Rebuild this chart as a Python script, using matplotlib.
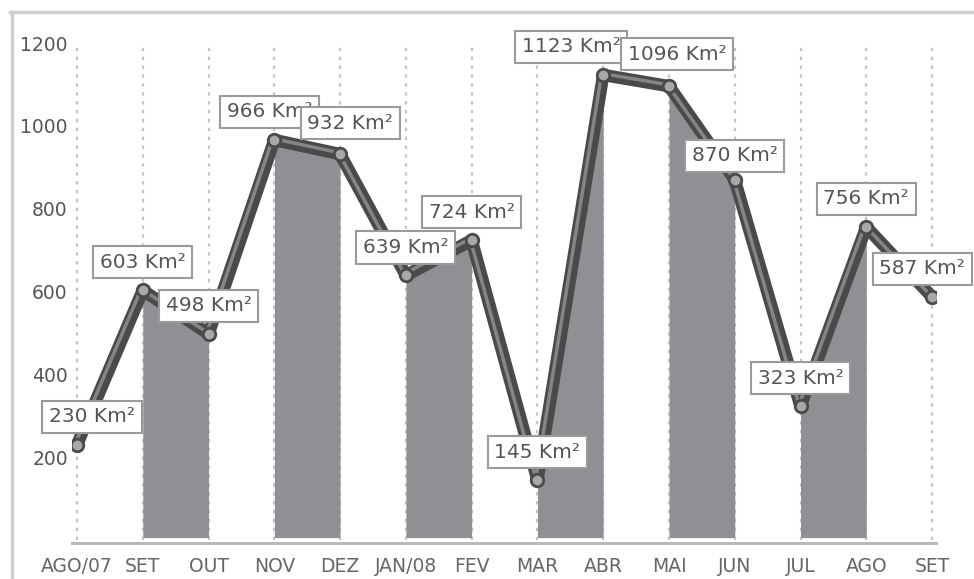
import numpy as np
import matplotlib.pyplot as plt
import matplotlib.transforms as mtransforms
from matplotlib.lines import Line2D

# area per month (km2)
months = ['AGO/07', 'SET', 'OUT', 'NOV', 'DEZ', 'JAN/08', 'FEV', 'MAR',
          'ABR', 'MAI', 'JUN', 'JUL', 'AGO', 'SET']
area = [230, 603, 498, 966, 932, 639, 724, 145, 1123, 1096, 870, 323, 756, 587]
yticks = [200, 400, 600, 800, 1000, 1200]

plt.rcParams['font.family'] = ['DejaVu Sans']

fig = plt.figure(figsize=(9.74, 5.79), dpi=100)
ax = fig.add_axes([72/974, 1-543/579, (936-72)/974, (543-41)/579])

x = np.arange(len(area))
y = np.array(area)

# dotted vertical grid
ax.vlines(x, 0, 1200, colors='#c4c4c4', linestyles=(0, (1.5, 2.5)), lw=1.6, zorder=1)

# shaded bands under the line (every other interval)
for i in range(1, len(x)-1, 2):
    ax.fill_between(x[i:i+2], 6, y[i:i+2], color='#8e9094', lw=0, zorder=2)

# tube-like line
ax.plot(x, y, color='#4a4a4a', lw=9, solid_joinstyle='round', solid_capstyle='round', zorder=3)
shift = mtransforms.offset_copy(ax.transData, fig=fig, x=-1.5, y=1.5, units='dots')
ax.plot(x, y, color='#858585', lw=2.5, transform=shift, solid_joinstyle='round', zorder=4)
ax.plot(x, y, 'o', ms=9, mfc='#a8a8a8', mec='#4a4a4a', mew=2, zorder=5)

# value labels, nudged a bit like the original
nudge = {0: (15, 0), 3: (-5, 0), 4: (10, 3), 8: (-32, 0), 9: (8, 4), 10: (0, -4), 13: (-10, 0)}
for i, v in enumerate(area):
    dx, dy = nudge.get(i, (0, 0))
    ax.annotate('%d Km²' % v, (x[i], v), xytext=(dx, 28+dy), textcoords='offset pixels',
                ha='center', va='center', fontsize=14.5, color='#555555',
                bbox=dict(boxstyle='square,pad=0.33', fc='white', ec='#9a9a9a', lw=1.5),
                zorder=6, annotation_clip=False)

ax.set_xlim(-0.076, 13.06)
ax.set_ylim(-7, 1205)
ax.set_xticks(x)
ax.set_xticklabels(months)
ax.set_yticks(yticks)
ax.tick_params(axis='x', length=0, pad=10, labelsize=13.5, labelcolor='#666666')
ax.tick_params(axis='y', length=0, pad=3, labelsize=13.5, labelcolor='#555555')
for s in ['top', 'right', 'left']:
    ax.spines[s].set_visible(False)
ax.spines['bottom'].set_color('#b8b8b8')
ax.spines['bottom'].set_linewidth(2.2)

# outer frame (top and left edges)
fig.add_artist(Line2D([10/974, 1], [1-12/579, 1-12/579], color='#cfcfcf', lw=2.5))
fig.add_artist(Line2D([12/974, 12/974], [1-12/579, 0], color='#cfcfcf', lw=2.5))

plt.savefig('out.png', dpi=100)
